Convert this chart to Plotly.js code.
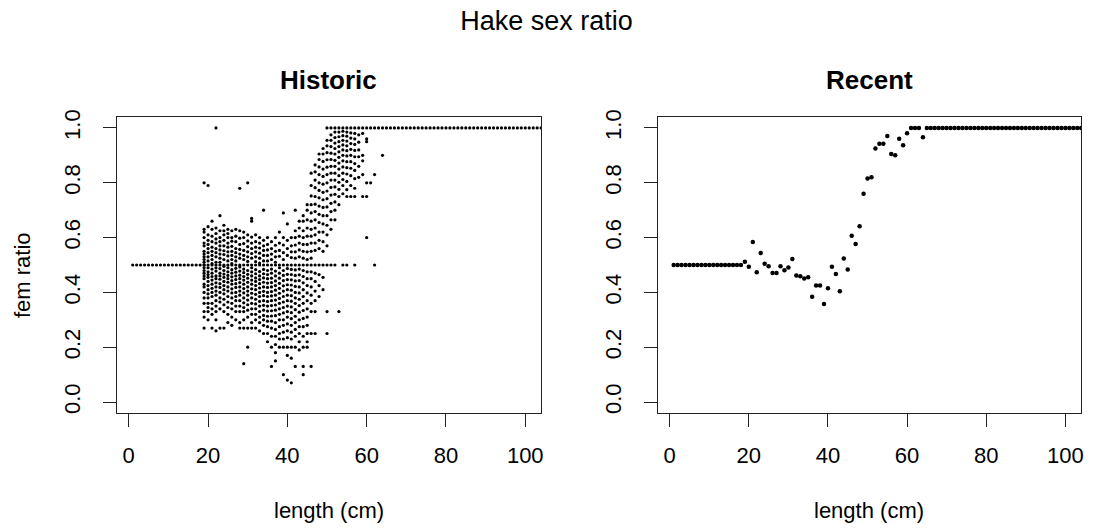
<!DOCTYPE html>
<html>
<head>
<meta charset="utf-8">
<script src="https://cdn.plot.ly/plotly-3.0.1.min.js"></script>
<style>html,body{margin:0;padding:0;background:#fff;}#chart{width:1093px;height:531px;}</style>
</head>
<body>
<div id="chart"></div>
<script>
// ---------- data ----------
const xTicks = [0, 20, 40, 60, 80, 100];
const yTicks = [0, 0.2, 0.4, 0.6, 0.8, 1.0];

// Recent: one ratio per length class (cm)
const recentLength = [1,2,3,4,5,6,7,8,9,10,11,12,13,14,15,16,17,18,19,20,21,22,23,24,25,26,27,28,29,30,
  31,32,33,34,35,36,37,38,39,40,41,42,43,44,45,46,47,48,49,50,51,52,53,54,55,56,57,58,59,60,
  61,62,63,64,65,66,67,68,69,70,71,72,73,74,75,76,77,78,79,80,81,82,83,84,85,86,87,88,89,90,
  91,92,93,94,95,96,97,98,99,100,101,102,103,104,105];
const recentFem = [0.5,0.5,0.5,0.5,0.5,0.5,0.5,0.5,0.5,0.5,0.5,0.5,0.5,0.5,0.5,0.5,0.5,0.5,
  0.512,0.494,0.584,0.474,0.544,0.505,0.495,0.471,0.471,0.495,0.481,0.491,0.522,0.462,0.459,0.451,0.455,
  0.384,0.425,0.425,0.358,0.415,0.494,0.467,0.404,0.524,0.484,0.607,0.577,0.641,0.760,0.816,0.820,
  0.925,0.942,0.942,0.971,0.905,0.900,0.961,0.937,0.981,1,1,1,0.966,
  1,1,1,1,1,1,1,1,1,1,1,1,1,1,1,1,1,1,1,1,1,1,1,1,1,1,1,1,1,1,1,1,1,1,1,1,1,1,1,1,1];

// Historic: several yearly ratios per length class (cm)
const histLength = recentLength;
const histFem = [
  [0.5],[0.5],[0.5],[0.5],[0.5],[0.5],[0.5],[0.5],[0.5],[0.5],[0.5],[0.5],[0.5],[0.5],[0.5],[0.5],[0.5],[0.5],
  [0.8,0.63,0.62,0.6,0.58,0.57,0.55,0.54,0.53,0.52,0.51,0.5,0.5,0.49,0.48,0.47,0.46,0.45,0.43,0.42,0.4,0.38,0.36,0.33,0.31,0.27],
  [0.79,0.64,0.61,0.59,0.575,0.56,0.545,0.53,0.515,0.5,0.49,0.475,0.465,0.455,0.44,0.425,0.41,0.395,0.38,0.36,0.345,0.33,0.3],
  [0.66,0.63,0.605,0.585,0.565,0.55,0.535,0.52,0.505,0.5,0.485,0.47,0.458,0.445,0.43,0.415,0.4,0.385,0.36,0.34,0.32,0.27],
  [1.0,0.635,0.615,0.595,0.58,0.56,0.545,0.53,0.51,0.5,0.49,0.478,0.46,0.45,0.435,0.42,0.405,0.39,0.37,0.35,0.33,0.3,0.26],
  [0.68,0.625,0.6,0.585,0.57,0.555,0.54,0.525,0.51,0.5,0.487,0.47,0.46,0.448,0.432,0.418,0.4,0.38,0.365,0.34,0.27],
  [0.645,0.625,0.61,0.59,0.57,0.552,0.538,0.52,0.5,0.495,0.48,0.467,0.455,0.44,0.425,0.41,0.395,0.375,0.355,0.33,0.27],
  [0.63,0.615,0.6,0.58,0.565,0.548,0.533,0.515,0.5,0.49,0.475,0.462,0.45,0.437,0.42,0.405,0.385,0.365,0.345,0.32,0.29],
  [0.625,0.6,0.587,0.568,0.55,0.535,0.52,0.505,0.5,0.483,0.47,0.457,0.443,0.43,0.413,0.398,0.38,0.36,0.34,0.31,0.28],
  [0.63,0.605,0.585,0.56,0.545,0.53,0.515,0.5,0.488,0.474,0.46,0.447,0.432,0.418,0.4,0.385,0.37,0.35,0.33,0.3],
  [0.78,0.625,0.598,0.575,0.557,0.54,0.525,0.5,0.493,0.478,0.463,0.45,0.436,0.42,0.405,0.39,0.37,0.35,0.33,0.29,0.27],
  [0.62,0.6,0.578,0.553,0.535,0.52,0.5,0.485,0.472,0.458,0.445,0.43,0.414,0.398,0.38,0.362,0.345,0.33,0.3,0.27,0.14],
  [0.8,0.61,0.588,0.567,0.548,0.53,0.513,0.5,0.48,0.466,0.452,0.437,0.42,0.405,0.39,0.372,0.355,0.335,0.31,0.27,0.2],
  [0.67,0.66,0.602,0.58,0.56,0.542,0.525,0.5,0.49,0.475,0.46,0.445,0.43,0.413,0.397,0.38,0.36,0.34,0.32,0.29,0.27],
  [0.61,0.585,0.565,0.548,0.53,0.512,0.5,0.483,0.468,0.453,0.44,0.425,0.41,0.393,0.375,0.358,0.34,0.32,0.3,0.27],
  [0.6,0.58,0.562,0.543,0.525,0.507,0.5,0.476,0.46,0.447,0.432,0.416,0.4,0.385,0.367,0.35,0.33,0.31,0.29,0.26],
  [0.7,0.59,0.57,0.553,0.535,0.515,0.5,0.484,0.468,0.453,0.437,0.42,0.404,0.388,0.37,0.353,0.335,0.316,0.3,0.28,0.25],
  [0.6,0.575,0.555,0.535,0.515,0.5,0.48,0.465,0.45,0.434,0.418,0.4,0.385,0.367,0.35,0.332,0.313,0.295,0.275,0.25,0.22],
  [0.585,0.56,0.54,0.52,0.5,0.485,0.47,0.452,0.436,0.42,0.403,0.387,0.37,0.352,0.333,0.314,0.295,0.27,0.24,0.2,0.13],
  [0.6,0.572,0.55,0.53,0.51,0.5,0.478,0.46,0.442,0.425,0.408,0.39,0.372,0.354,0.335,0.315,0.29,0.265,0.24,0.21,0.18,0.15],
  [0.62,0.58,0.553,0.532,0.5,0.49,0.47,0.452,0.433,0.415,0.397,0.378,0.36,0.34,0.32,0.3,0.275,0.25,0.23,0.2],
  [0.69,0.6,0.573,0.545,0.52,0.5,0.48,0.462,0.443,0.424,0.405,0.385,0.365,0.345,0.325,0.3,0.28,0.255,0.23,0.2,0.1],
  [0.65,0.59,0.56,0.535,0.5,0.487,0.466,0.447,0.428,0.41,0.39,0.37,0.35,0.33,0.31,0.285,0.26,0.235,0.2,0.17,0.08],
  [0.6,0.57,0.548,0.527,0.5,0.484,0.465,0.446,0.427,0.408,0.388,0.368,0.347,0.326,0.304,0.28,0.255,0.23,0.2,0.16,0.07],
  [0.7,0.625,0.6,0.573,0.548,0.525,0.5,0.482,0.462,0.442,0.422,0.4,0.38,0.36,0.337,0.313,0.29,0.265,0.24,0.2,0.13],
  [0.66,0.635,0.605,0.58,0.555,0.53,0.5,0.485,0.464,0.443,0.42,0.398,0.375,0.352,0.328,0.3,0.275,0.25,0.22,0.19],
  [0.68,0.66,0.625,0.6,0.575,0.55,0.525,0.5,0.48,0.458,0.435,0.41,0.385,0.36,0.334,0.305,0.275,0.24,0.2,0.13,0.1],
  [0.72,0.7,0.665,0.635,0.605,0.575,0.548,0.52,0.5,0.475,0.45,0.425,0.398,0.37,0.34,0.31,0.28,0.25,0.22,0.2],
  [0.835,0.79,0.752,0.72,0.69,0.66,0.63,0.605,0.58,0.55,0.525,0.5,0.475,0.45,0.42,0.39,0.36,0.33,0.25,0.13],
  [0.865,0.84,0.81,0.782,0.75,0.722,0.695,0.665,0.635,0.61,0.58,0.553,0.5,0.47,0.44,0.405,0.37,0.33,0.25],
  [0.905,0.885,0.858,0.83,0.8,0.772,0.745,0.715,0.685,0.655,0.62,0.59,0.56,0.5,0.465,0.425,0.385],
  [0.925,0.905,0.878,0.85,0.823,0.795,0.765,0.738,0.71,0.68,0.65,0.62,0.585,0.55,0.5,0.455,0.41],
  [1.0,0.955,0.935,0.91,0.884,0.857,0.83,0.8,0.77,0.742,0.712,0.68,0.645,0.61,0.57,0.5,0.33,0.25],
  [1.0,0.975,0.955,0.932,0.908,0.885,0.86,0.835,0.81,0.783,0.755,0.725,0.695,0.665,0.63,0.5],
  [1.0,0.985,0.965,0.945,0.925,0.905,0.882,0.86,0.835,0.81,0.785,0.758,0.73,0.7,0.665,0.5],
  [1.0,0.985,0.968,0.95,0.932,0.913,0.893,0.872,0.85,0.826,0.802,0.776,0.75,0.72,0.33],
  [1.0,0.988,0.972,0.955,0.938,0.92,0.9,0.88,0.858,0.835,0.812,0.79,0.76,0.5],
  [1.0,0.985,0.97,0.952,0.935,0.917,0.898,0.877,0.855,0.832,0.805,0.775,0.75,0.5],
  [1.0,0.982,0.963,0.943,0.922,0.9,0.877,0.853,0.826,0.79,0.75],
  [1.0,0.98,0.96,0.94,0.918,0.895,0.87,0.845,0.815,0.78,0.75,0.5],
  [1.0,0.975,0.948,0.92,0.895,0.86,0.82],
  [1.0,0.98,0.9,0.88,0.83,0.75],
  [1.0,0.96,0.95,0.8,0.75,0.6],
  [1.0,0.8],
  [1.0,0.83,0.5],
  [1.0],
  [1.0,0.9],
  [1],[1],[1],[1],[1],[1],[1],[1],[1],[1],[1],[1],[1],[1],[1],[1],[1],[1],[1],[1],
  [1],[1],[1],[1],[1],[1],[1],[1],[1],[1],[1],[1],[1],[1],[1],[1],[1],[1],[1],[1],[1]
];

// ---------- build traces ----------
const hx = [], hy = [];
histLength.forEach((len, i) => { histFem[i].forEach(v => { hx.push(len); hy.push(v); }); });

const FONT = 'Liberation Sans, Arial, Helvetica, sans-serif';
const AX = '#222';

const traces = [
  { type: 'scatter', mode: 'markers', x: hx, y: hy, xaxis: 'x', yaxis: 'y',
    marker: { color: '#000', size: 3.2 }, hoverinfo: 'x+y', showlegend: false },
  { type: 'scatter', mode: 'markers', x: recentLength, y: recentFem, xaxis: 'x2', yaxis: 'y2',
    marker: { color: '#000', size: 4.5 }, hoverinfo: 'x+y', showlegend: false }
];

function xax(domain, anchor) {
  return { domain: domain, anchor: anchor, range: [-2.96, 103.96], tickvals: xTicks, ticktext: xTicks.map(String),
    ticks: 'outside', ticklen: 13, tickwidth: 1, tickcolor: AX, showline: true, mirror: true,
    linecolor: AX, linewidth: 1, showgrid: false, zeroline: false,
    tickfont: { family: FONT, size: 22, color: '#000' }, ticklabelstandoff: 10 };
}
function yax(anchor) {
  return { anchor: anchor, domain: [0, 1], range: [-0.04, 1.04], tickvals: yTicks, ticktext: yTicks.map(v => v.toFixed(1)),
    ticks: 'outside', ticklen: 13, tickwidth: 1, tickcolor: AX, showline: true, mirror: true,
    linecolor: AX, linewidth: 1, showgrid: false, zeroline: false, tickangle: -90,
    tickfont: { family: FONT, size: 22, color: '#000' }, ticklabelstandoff: 14 };
}

const layout = {
  width: 1093, height: 531,
  margin: { l: 117, r: 12, t: 117, b: 118 },
  paper_bgcolor: '#fff', plot_bgcolor: '#fff',
  showlegend: false,
  title: { text: 'Hake sex ratio', font: { family: FONT, size: 27, color: '#000' },
           x: 0.5, xref: 'container', xanchor: 'center', y: 1 - 21 / 531, yref: 'container', yanchor: 'middle' },
  xaxis: xax([0, 0.4398], 'y'),
  yaxis: yax('x'),
  xaxis2: xax([0.5612, 1], 'y2'),
  yaxis2: yax('x2'),
  annotations: [
    { text: '<b>Historic</b>', xref: 'x domain', yref: 'paper', x: 0.5, y: (413 - 80) / 296,
      xanchor: 'center', yanchor: 'middle', showarrow: false, font: { family: FONT, size: 26, color: '#000' } },
    { text: '<b>Recent</b>', xref: 'x2 domain', yref: 'paper', x: 0.5, y: (413 - 80) / 296,
      xanchor: 'center', yanchor: 'middle', showarrow: false, font: { family: FONT, size: 26, color: '#000' } },
    { text: 'length (cm)', xref: 'x domain', yref: 'paper', x: 0.5, y: (413 - 510) / 296,
      xanchor: 'center', yanchor: 'middle', showarrow: false, font: { family: FONT, size: 22, color: '#000' } },
    { text: 'length (cm)', xref: 'x2 domain', yref: 'paper', x: 0.5, y: (413 - 510) / 296,
      xanchor: 'center', yanchor: 'middle', showarrow: false, font: { family: FONT, size: 22, color: '#000' } },
    { text: 'fem ratio', xref: 'paper', yref: 'paper', x: (22 - 117) / 964, y: (413 - 275) / 296, textangle: -90,
      xanchor: 'center', yanchor: 'middle', showarrow: false, font: { family: FONT, size: 22, color: '#000' } }
  ]
};

Plotly.newPlot('chart', traces, layout, { staticPlot: true, displayModeBar: false });
</script>
</body>
</html>
